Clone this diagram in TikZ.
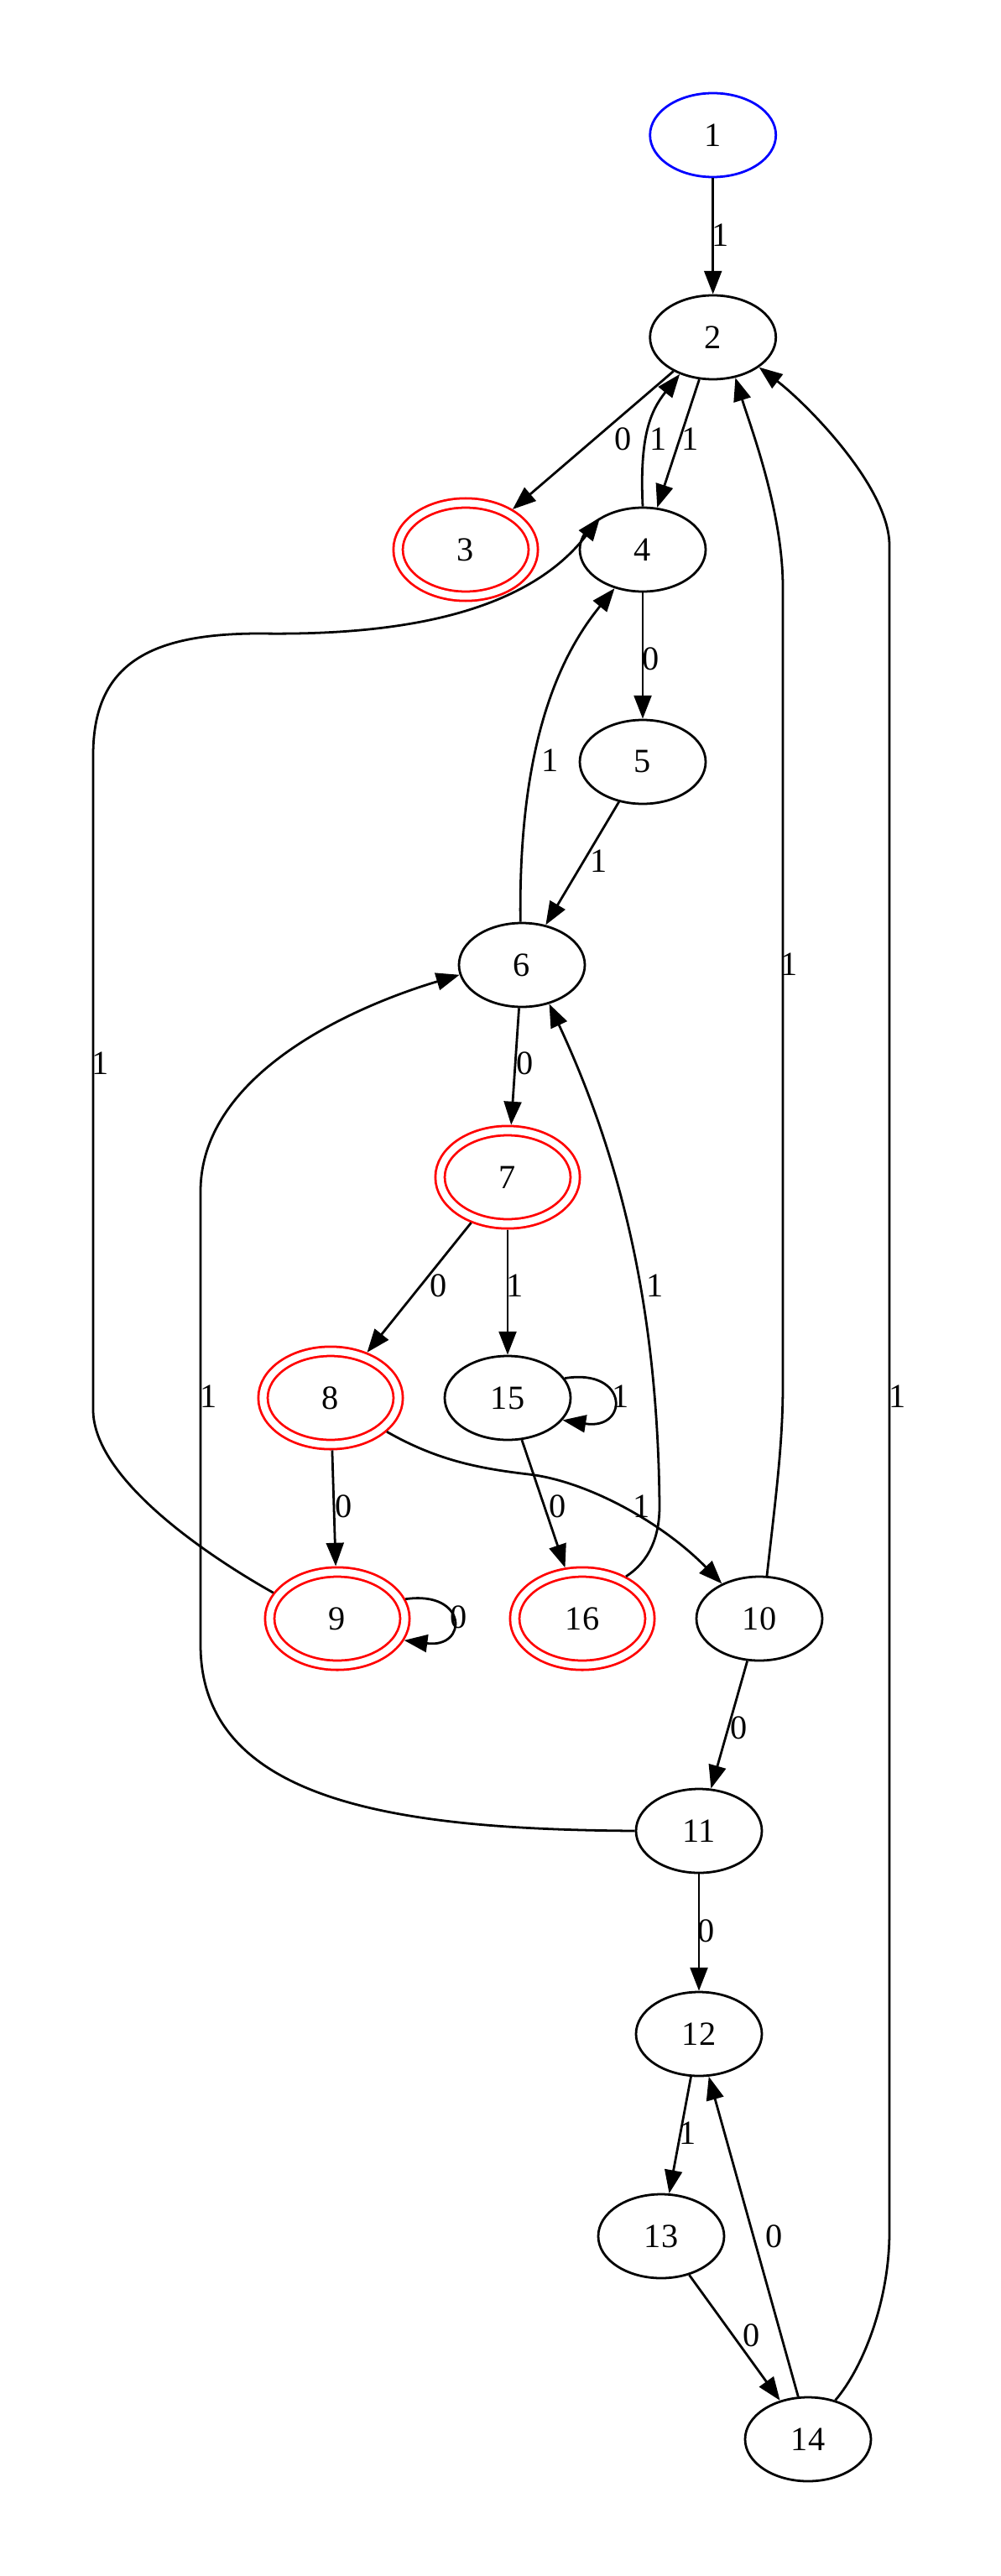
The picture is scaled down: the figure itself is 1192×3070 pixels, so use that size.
\documentclass[tikz,border=0pt]{standalone}
\usepackage{fontspec}
\setmainfont{Liberation Serif}
\usetikzlibrary{arrows.meta,shapes.geometric}
\begin{document}
\begin{tikzpicture}[x=0.36pt,y=-0.36pt,
  st/.style={ellipse, draw, line width=1pt, minimum width=54pt, minimum height=36pt, inner sep=0pt, font=\fontsize{14.5}{16}\selectfont},
  acc/.style={ellipse, draw=red, double=white, double distance=3pt, line width=1pt, minimum width=58pt, minimum height=40pt, inner sep=0pt, outer sep=2.5pt, font=\fontsize{14.5}{16}\selectfont},
  arr/.style={line width=1pt, -{Triangle[length=10pt,width=7.5pt]}},
  lab/.style={font=\fontsize{14.5}{16}\selectfont, inner sep=0pt}
]
\useasboundingbox (0,0) rectangle (1192,3070);
% nodes
\node[st, draw=blue] (n1) at (849.7,161) {1};
\node[st] (n2) at (849.7,402) {2};
\node[acc] (n3) at (555,655) {3};
\node[st] (n4) at (766,655) {4};
\node[st] (n5) at (766,908) {5};
\node[st] (n6) at (622,1150) {6};
\node[acc] (n7) at (605,1403) {7};
\node[acc] (n8) at (394,1666) {8};
\node[st] (n15) at (605,1666) {15};
\node[acc] (n9) at (402,1929) {9};
\node[acc] (n16) at (694,1929) {16};
\node[st] (n10) at (905,1929) {10};
\node[st] (n11) at (833,2182) {11};
\node[st] (n12) at (833,2424) {12};
\node[st] (n13) at (788,2665) {13};
\node[st] (n14) at (963,2907) {14};
% edges
\draw[arr] (n1) -- (n2);
\draw[arr] (n2) -- (n3);
\draw[arr] (n4.north) .. controls (762,520) and (775,490) .. (n2.228);
\draw[arr] (n2.252) -- (n4.71);
\draw[arr] (n10.80) .. controls (925,1780) and (933,1720) .. (933,1650) -- (933,700) .. controls (933,610) and (895,510) .. (n2.299);
\draw[arr] (n14.55) .. controls (1030,2820) and (1060,2740) .. (1060,2660) -- (1060,650) .. controls (1060,580) and (960,480) .. (n2.327);
\draw[arr] (n4) -- (n5);
\draw[arr] (n5) -- (n6);
\draw[arr] (n6.92) .. controls (618,900) and (660,790) .. (n4.234);
\draw[arr] (n9.158) .. controls (240,1850) and (111,1760) .. (111,1680) -- (111,900) .. controls (111,790) and (180,755) .. (310,755) .. controls (450,757) and (620,740) .. (n4.143);
\draw[arr] (n6) -- (n7);
\draw[arr] (n11.west) .. controls (480,2180) and (239,2150) .. (239,1960) -- (239,1420) .. controls (239,1280) and (420,1200) .. (n6.189);
\draw[arr] (n16.44) .. controls (775,1860) and (786,1830) .. (786,1795) .. controls (784,1560) and (740,1380) .. (n6.305);
\draw[arr] (n7) -- (n8);
\draw[arr] (n7) -- (n15);
\draw[arr] (n15.19) .. controls (750,1630) and (750,1705) .. (n15.338);
\draw[arr] (n8) -- (n9);
\draw[arr] (n8.329) .. controls (520,1740) and (570,1750) .. (630,1757) .. controls (700,1765) and (790,1815) .. (n10.137);
\draw[arr] (n15) -- (n16);
\draw[arr] (n9.16) .. controls (558,1895) and (558,1965) .. (n9.342);
\draw[arr] (n10) -- (n11);
\draw[arr] (n11) -- (n12);
\draw[arr] (n12) -- (n13);
\draw[arr] (n13) -- (n14);
\draw[arr] (n14.103) -- (n12.283);
% labels
\node[lab] (l1) at (859,280) {1};
\node[lab] (l2) at (742.5,523) {0};
\node[lab] (l3) at (784.6,523) {1};
\node[lab] (l4) at (823,523) {1};
\node[lab] (l5) at (776,785) {0};
\node[lab] (l6) at (656,906) {1};
\node[lab] (l7) at (714,1026) {1};
\node[lab] (l8) at (941,1149) {1};
\node[lab] (l9) at (1070,1664) {1};
\node[lab] (l10) at (626,1267) {0};
\node[lab] (l11) at (120,1267) {1};
\node[lab] (l12) at (249,1664) {1};
\node[lab] (l13) at (523,1532) {0};
\node[lab] (l14) at (614,1532) {1};
\node[lab] (l15) at (781,1532) {1};
\node[lab] (l16) at (740,1664) {1};
\node[lab] (l17) at (410,1795) {0};
\node[lab] (l18) at (665,1795) {0};
\node[lab] (l19) at (765,1795) {1};
\node[lab] (l20) at (547,1927) {0};
\node[lab] (l21) at (881,2059) {0};
\node[lab] (l22) at (842,2301) {0};
\node[lab] (l23) at (820,2542) {1};
\node[lab] (l24) at (923,2665) {0};
\node[lab] (l25) at (896,2783) {0};
\end{tikzpicture}
\end{document}
